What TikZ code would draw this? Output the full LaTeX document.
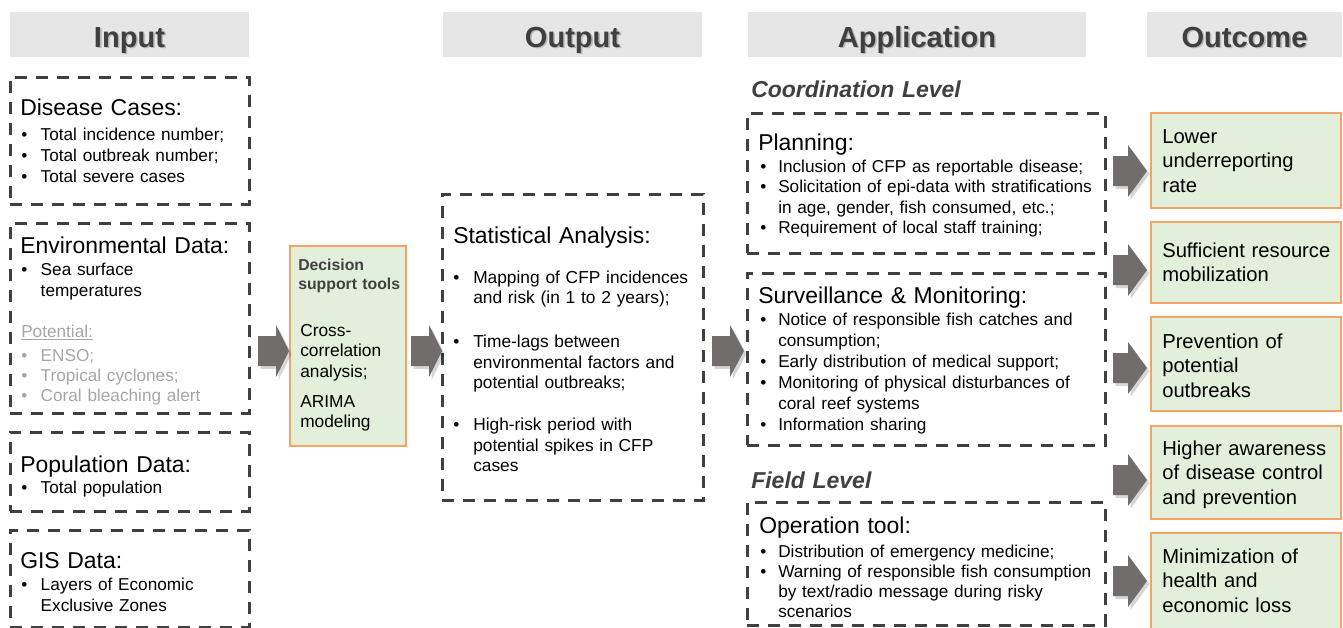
\documentclass[tikz,border=0pt]{standalone}
\usepackage{fontspec}
\setmainfont{Liberation Sans}
\usetikzlibrary{fit}

\definecolor{hdrfill}{HTML}{E7E6E6}
\definecolor{hdrtext}{HTML}{3F3F3F}
\definecolor{hdrshade}{HTML}{B8B8B8}
\definecolor{dashcol}{HTML}{404040}
\definecolor{greenfill}{HTML}{E2EFDA}
\definecolor{orangeline}{HTML}{F2A365}
\definecolor{arrowfill}{HTML}{716D6D}
\definecolor{potgray}{HTML}{A6A6A6}
\definecolor{lvltext}{HTML}{404040}

% font sizes
\newcommand\fbody{\fontsize{12.9}{15.75}\selectfont}
\newcommand\fhead{\fontsize{17.2}{20}\selectfont}
\newcommand\fout{\fontsize{15.15}{18.4}\selectfont}
\newcommand\fcol{\fontsize{21.8}{26}\selectfont\bfseries}
\newcommand\fdst{\fontsize{11.85}{14.25}\selectfont\bfseries}

% bullets with hanging indents
\newcommand\bi{\makebox[14.6pt][l]{•}}
\newcommand\ii{\hspace*{14.6pt}}
\newcommand\bo{\makebox[15pt][l]{•}}
\newcommand\io{\hspace*{15pt}}
\newcommand\ba{\makebox[13.5pt][l]{•}}
\newcommand\ia{\hspace*{13.5pt}}
\newcommand\shadowed[1]{{\color{hdrshade}\rlap{\kern1.2pt\raisebox{-1.2pt}{#1}}}#1}

\tikzset{
  pics/blockarr/.style args={#1/#2}{code={
    \begin{scope}[shift={(2.5,3)}]
      \fill[black,opacity=.16] (-#1,-15) -- (-#2,-15) -- (-#2,-26) -- (0,0)
        -- (-#2,26) -- (-#2,15) -- (-#1,15) -- cycle;
    \end{scope}
    \fill[arrowfill] (-#1,-15) -- (-#2,-15) -- (-#2,-26) -- (0,0)
      -- (-#2,26) -- (-#2,15) -- (-#1,15) -- cycle;
  }}
}

\begin{document}
\begin{tikzpicture}[x=0.75pt,y=-0.75pt,
  dbox/.style={draw=dashcol, line width=2.25pt, dash pattern=on 9pt off 6.75pt, inner sep=0pt},
  gbox/.style={draw=orangeline, fill=greenfill, line width=1.1pt, inner sep=0pt},
  hdr/.style={fill=hdrfill, inner sep=0pt},
  coltitle/.style={anchor=base, inner sep=0pt, font=\fcol, text=hdrtext},
  txt/.style={anchor=base west, inner sep=0pt, text width=330pt, align=left},
  heading/.style={txt, font=\fhead},
  body/.style={txt, font=\fbody},
  appbody/.style={txt, font=\fontsize{12.9}{15.4}\selectfont},
  level/.style={txt, font=\fontsize{17.25}{20}\selectfont\bfseries\itshape, text=lvltext},
  outtxt/.style={txt, font=\fout},
]
\useasboundingbox (0,0) rectangle (1343,628);

% ---------- column headers ----------
\node[hdr, fit={(10,12) (249,57)}] (hin) {};
\node[coltitle] (tin) at (129.5,47) {\shadowed{Input}};
\node[hdr, fit={(443,12) (702,57)}] (hout) {};
\node[coltitle] (tout) at (572.5,47) {\shadowed{Output}};
\node[hdr, fit={(748,12) (1086,57)}] (happ) {};
\node[coltitle] (tapp) at (917,47) {\shadowed{Application}};
\node[hdr, fit={(1147,12) (1342,57)}] (hres) {};
\node[coltitle] (tres) at (1244.5,47) {\shadowed{Outcome}};

% ---------- input ----------
\node[dbox, fit={(10,77) (249,204)}] (dis) {};
\node[heading] (dish) at (20,115) {Disease Cases:};
\node[body] (disb) at (21,140) {\bi Total incidence number;\\ \bi Total outbreak number;\\ \bi Total severe cases};

\node[dbox, fit={(10,223) (249,413)}] (env) {};
\node[heading] (envh) at (20,253) {Environmental Data:};
\node[body] (envb) at (21,275) {\bi Sea surface\\ \ii temperatures};
\node[body, text=potgray] (poth) at (21,337) {\underline{Potential:}};
\node[txt, font=\fontsize{12.9}{15.2}\selectfont, text=potgray] (potb) at (21,361)
  {\bi ENSO;\\ \bi Tropical cyclones;\\ \bi Coral bleaching alert};

\node[dbox, fit={(10,432) (249,511)}] (pop) {};
\node[heading] (poph) at (20,472) {Population Data:};
\node[body] (popb) at (21,493) {\bi Total population};

\node[dbox, fit={(10,530) (249,627)}] (gis) {};
\node[heading] (gish) at (20,568) {GIS Data:};
\node[body] (gisb) at (21,590) {\bi Layers of Economic\\ \ii Exclusive Zones};

% ---------- decision support tools ----------
\node[gbox, fit={(290,246) (406,446)}] (dst) {};
\node[txt, font=\fdst, text=lvltext] (dsth) at (298,270) {Decision\\ support tools};
\node[txt, font=\fontsize{13}{15.4}\selectfont] (dsta) at (300,336) {Cross-\\ correlation\\ analysis;};
\node[txt, font=\fontsize{13}{15.4}\selectfont] (dstb) at (300,407) {ARIMA\\ modeling};

% ---------- output ----------
\node[dbox, fit={(442,194) (703,500)}] (sta) {};
\node[heading] (stah) at (453,243) {Statistical Analysis:};
\node[txt, font=\fontsize{13}{15.4}\selectfont] (stab) at (453,283)
  {\bo Mapping of CFP incidences\\ \io and risk (in 1 to 2 years);\\[17.6pt]
   \bo Time-lags between\\ \io environmental factors and\\ \io potential outbreaks;\\[16pt]
   \bo High-risk period with\\ \io potential spikes in CFP\\ \io cases};

% ---------- application ----------
\node[level] (coord) at (751,97) {Coordination Level};
\node[dbox, fit={(747,113) (1105,253)}] (plan) {};
\node[heading] (planh) at (758,150) {Planning:};
\node[appbody] (planb) at (760,172)
  {\ba Inclusion of CFP as reportable disease;\\
   \ba Solicitation of epi-data with stratifications\\
   \ia in age, gender, fish consumed, etc.;\\
   \ba Requirement of local staff training;};

\node[dbox, fit={(747,273) (1105,445)}] (surv) {};
\node[heading] (survh) at (758,303) {Surveillance \& Monitoring:};
\node[txt, font=\fontsize{12.9}{15.75}\selectfont] (survb) at (760,325)
  {\ba Notice of responsible fish catches and\\
   \ia consumption;\\
   \ba Early distribution of medical support;\\
   \ba Monitoring of physical disturbances of\\
   \ia coral reef systems\\
   \ba Information sharing};

\node[level] (field) at (751,488) {Field Level};
\node[dbox, fit={(747,502) (1105,625)}] (oper) {};
\node[heading] (operh) at (759,533) {Operation tool:};
\node[txt, font=\fontsize{12.9}{15}\selectfont] (operb) at (760,557)
  {\ba Distribution of emergency medicine;\\
   \ba Warning of responsible fish consumption\\
   \ia by text/radio message during risky\\
   \ia scenarios};

% ---------- outcome ----------
\node[gbox, fit={(1151,113) (1341,208)}] (oc1) {};
\node[outtxt] (oc1t) at (1162,143) {Lower\\ underreporting\\ rate};
\node[gbox, fit={(1151,222) (1341,303)}] (oc2) {};
\node[outtxt] (oc2t) at (1162,257) {Sufficient resource\\ mobilization};
\node[gbox, fit={(1151,317) (1341,411)}] (oc3) {};
\node[outtxt] (oc3t) at (1162,348) {Prevention of\\ potential\\ outbreaks};
\node[gbox, fit={(1151,426) (1341,519)}] (oc4) {};
\node[outtxt] (oc4t) at (1162,455) {Higher awareness\\ of disease control\\ and prevention};
\node[gbox, fit={(1151,533) (1341,634)}] (oc5) {};
\node[outtxt] (oc5t) at (1162,563) {Minimization of\\ health and\\ economic loss};

% ---------- block arrows ----------
\pic at (289,351) {blockarr=31/13};
\pic at (442,351) {blockarr=31/13};
\pic at (744,351) {blockarr=32/14};
\pic at (1147,171) {blockarr=34/19};
\pic at (1147,270) {blockarr=34/19};
\pic at (1147,368) {blockarr=34/19};
\pic at (1147,480) {blockarr=34/19};
\pic at (1147,581) {blockarr=34/19};
\end{tikzpicture}
\end{document}
